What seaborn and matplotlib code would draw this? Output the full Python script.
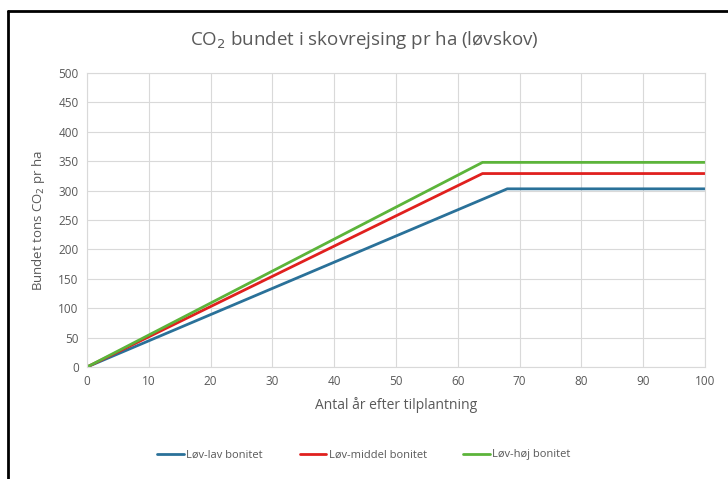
import matplotlib
matplotlib.use("Agg")
import matplotlib.pyplot as plt
import seaborn as sns
import pandas as pd
from matplotlib.lines import Line2D

years_lav = [0, 68, 100]
co2_lav = [0, 303, 303]
years_middel = [0, 64, 100]
co2_middel = [0, 329, 329]
years_hoej = [0, 64, 100]
co2_hoej = [0, 348, 348]
series_names = ["Løv-lav bonitet", "Løv-middel bonitet", "Løv-høj bonitet"]
colors = ["#2A7199", "#E0201E", "#5CB43A"]
x_ticks = list(range(0, 101, 10))
y_ticks = list(range(0, 501, 50))

df = pd.concat([
    pd.DataFrame({"x": years_lav, "y": co2_lav, "serie": series_names[0]}),
    pd.DataFrame({"x": years_middel, "y": co2_middel, "serie": series_names[1]}),
    pd.DataFrame({"x": years_hoej, "y": co2_hoej, "serie": series_names[2]}),
])

sns.set_theme(style="white")
plt.rcParams["font.family"] = ["Open Sans", "DejaVu Sans"]

fig = plt.figure(figsize=(7.28, 4.79), dpi=100)
ax = fig.add_axes([87/728, 1-367/479, (705-87)/728, (367-73)/479])

sns.lineplot(data=df, x="x", y="y", hue="serie", palette=colors, linewidth=2.0,
             ax=ax, legend=False, sort=False)

ax.set_xlim(0, 100)
ax.set_ylim(0, 500)
ax.set_xticks(x_ticks)
ax.set_yticks(y_ticks)
ax.grid(True, color="#D9D9D9", linewidth=0.8)
ax.set_axisbelow(True)
for s in ax.spines.values():
    s.set_color("#D9D9D9")
    s.set_linewidth(0.8)
ax.tick_params(axis="both", labelsize=8.5, colors="#595959", length=0, pad=6)
ax.set_xlabel("Antal år efter tilplantning", fontsize=10, color="#595959", labelpad=6)
ax.set_ylabel("Bundet tons CO$_2$ pr ha", fontsize=9.5, color="#595959", labelpad=8)

fig.text(0.5, 1-40/479, "CO$_2$ bundet i skovrejsing pr ha (løvskov)", ha="center", va="center",
         fontsize=13.5, color="#595959")

handles = [Line2D([0], [0], color=c, linewidth=2.0) for c in colors]
fig.legend(handles, series_names, loc="center", bbox_to_anchor=(0.5, 1-455/479), ncol=3,
           frameon=False, fontsize=8, labelcolor="#595959", handlelength=2.4,
           handletextpad=0.2, columnspacing=3.3)

# outer chart frame (left and top edges visible)
fig.add_artist(Line2D([8/728, 8/728], [0, 1-11/479], transform=fig.transFigure, color="black", linewidth=2))
fig.add_artist(Line2D([8/728, 1], [1-11/479, 1-11/479], transform=fig.transFigure, color="black", linewidth=2))

fig.savefig("out.png", dpi=100)
